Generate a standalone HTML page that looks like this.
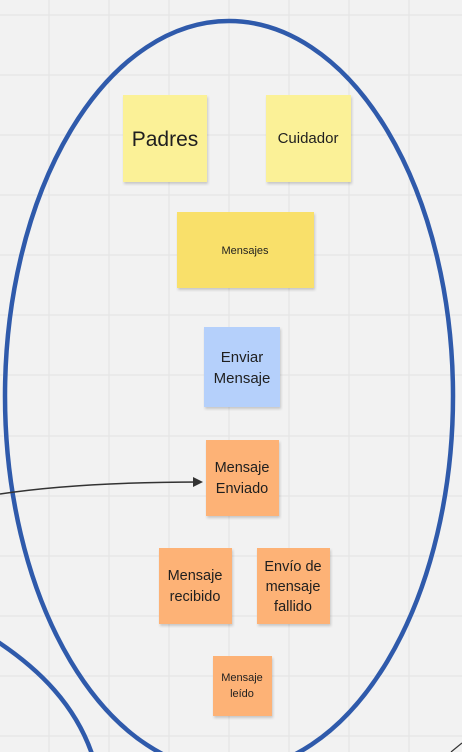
<!DOCTYPE html>
<html><head><meta charset="utf-8"><style>
html,body{margin:0;padding:0;width:462px;height:752px;overflow:hidden;background:#f2f2f2}
svg{display:block}
text{font-family:"Liberation Sans","DejaVu Sans",sans-serif;fill:#1f1f1f;text-anchor:middle}
</style></head><body>
<svg width="462" height="752" viewBox="0 0 462 752" xmlns="http://www.w3.org/2000/svg">
<defs>
<filter id="sh" x="-10%" y="-10%" width="130%" height="130%"><feDropShadow dx="1" dy="2" stdDeviation="1.2" flood-color="#000" flood-opacity="0.18"/></filter>
<marker id="ar" markerWidth="10" markerHeight="10" refX="8" refY="5" orient="auto" markerUnits="userSpaceOnUse"><path d="M0,0 L10,5 L0,10 z" fill="#333"/></marker>
</defs>
<g stroke="#e3e3e3" stroke-width="1">
<line x1="49" y1="0" x2="49" y2="752"/><line x1="109" y1="0" x2="109" y2="752"/><line x1="169" y1="0" x2="169" y2="752"/><line x1="229" y1="0" x2="229" y2="752"/><line x1="289" y1="0" x2="289" y2="752"/><line x1="349" y1="0" x2="349" y2="752"/><line x1="409" y1="0" x2="409" y2="752"/>
<line x1="0" y1="15" x2="462" y2="15"/><line x1="0" y1="75" x2="462" y2="75"/><line x1="0" y1="135" x2="462" y2="135"/><line x1="0" y1="195" x2="462" y2="195"/><line x1="0" y1="255" x2="462" y2="255"/><line x1="0" y1="315" x2="462" y2="315"/><line x1="0" y1="375" x2="462" y2="375"/><line x1="0" y1="436" x2="462" y2="436"/><line x1="0" y1="496" x2="462" y2="496"/><line x1="0" y1="556" x2="462" y2="556"/><line x1="0" y1="616" x2="462" y2="616"/><line x1="0" y1="676" x2="462" y2="676"/><line x1="0" y1="736" x2="462" y2="736"/>
</g>
<ellipse cx="229" cy="396" rx="224" ry="375" fill="none" stroke="#2f5aab" stroke-width="4.5"/>
<path d="M-2,642 C40,670 75,705 92,754" fill="none" stroke="#2f5aab" stroke-width="4.5"/>
<path d="M0,494 C60,485 130,482 201,482" fill="none" stroke="#333" stroke-width="1.5" marker-end="url(#ar)"/>
<line x1="451" y1="752" x2="462" y2="743" stroke="#333" stroke-width="1.2"/>
<g filter="url(#sh)">
<rect x="123" y="95" width="84" height="87" fill="#fbf197"/>
<rect x="266" y="95" width="85" height="87" fill="#fbf197"/>
<rect x="177" y="212" width="137" height="76" fill="#f9e06b"/>
<rect x="204" y="327" width="76" height="80" fill="#b5d0fb"/>
<rect x="206" y="440" width="73" height="76" fill="#fdb276"/>
<rect x="159" y="548" width="73" height="76" fill="#fdb276"/>
<rect x="257" y="548" width="73" height="76" fill="#fdb276"/>
<rect x="213" y="656" width="59" height="60" fill="#fdb276"/>
</g>
<text x="165" y="146" font-size="21">Padres</text>
<text x="308" y="143" font-size="15">Cuidador</text>
<text x="245" y="254" font-size="11">Mensajes</text>
<text x="242" y="362" font-size="15">Enviar</text>
<text x="242" y="383" font-size="15">Mensaje</text>
<text x="242" y="472" font-size="14.5">Mensaje</text>
<text x="242" y="493" font-size="14.5">Enviado</text>
<text x="195" y="580" font-size="14.5">Mensaje</text>
<text x="195" y="601" font-size="14.5">recibido</text>
<text x="293" y="571" font-size="14.5">Envío de</text>
<text x="293" y="591" font-size="14.5">mensaje</text>
<text x="293" y="611" font-size="14.5">fallido</text>
<text x="242" y="681" font-size="11">Mensaje</text>
<text x="242" y="697" font-size="11">leído</text>
</svg>
</body></html>
